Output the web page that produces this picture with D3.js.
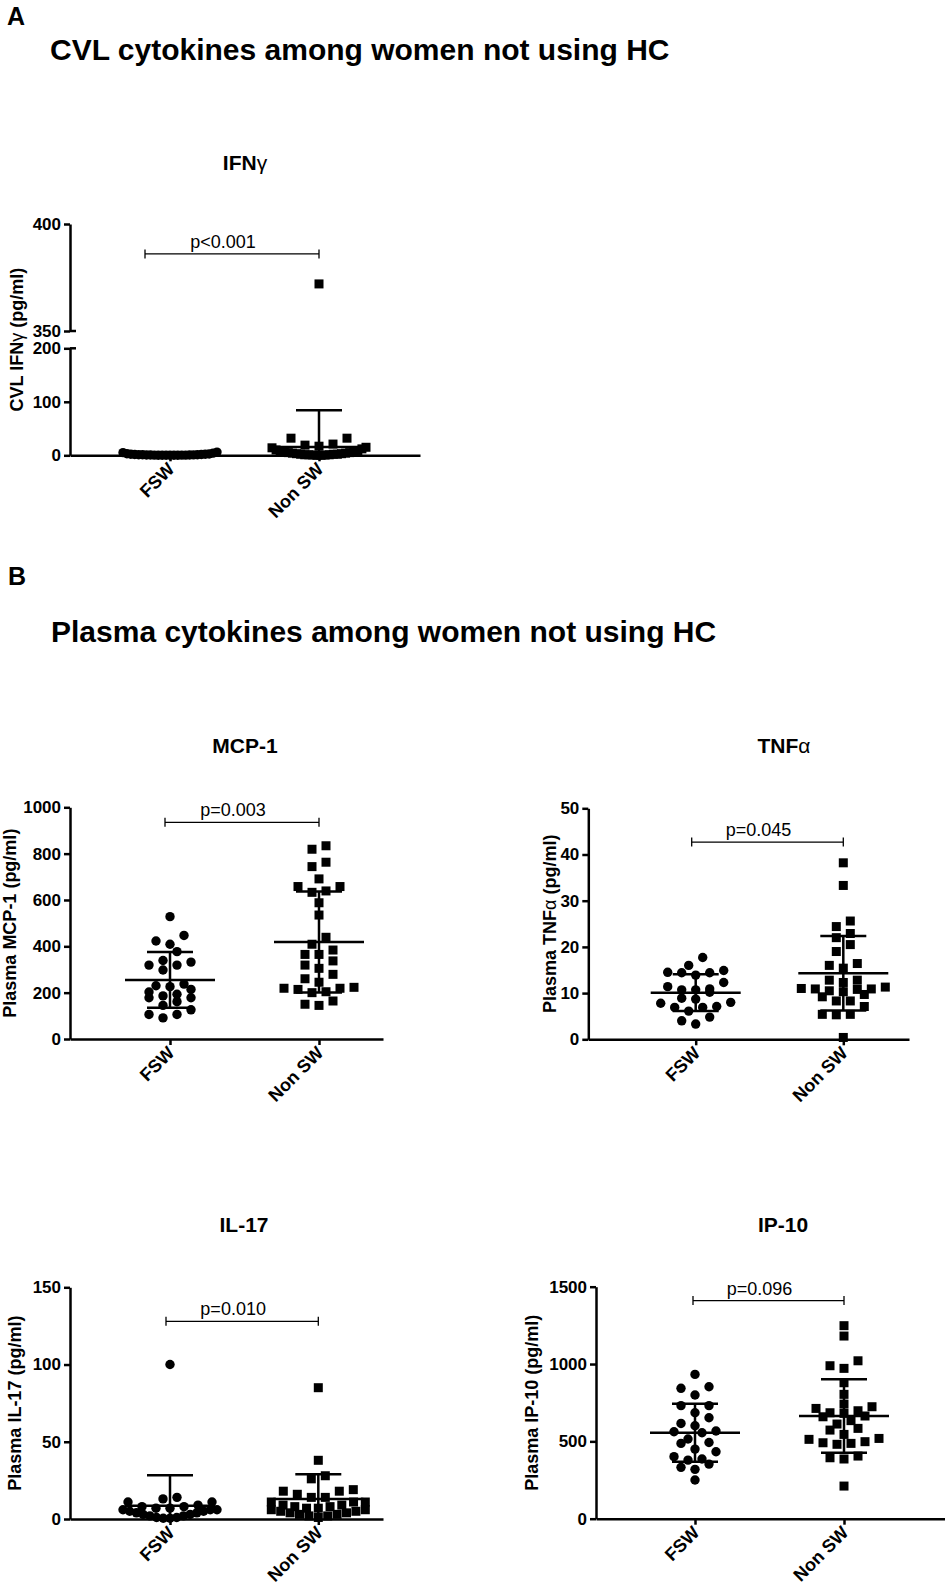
<!DOCTYPE html>
<html lang="en">
<head>
<meta charset="UTF-8">
<title>Cytokines among women not using HC</title>
<script src="https://cdnjs.cloudflare.com/ajax/libs/d3/7.8.5/d3.min.js"></script>
<style>
  body { margin: 0; background: #fff; }
  svg { font-family: "Liberation Sans", Arial, sans-serif; }
</style>
</head>
<body>
<script>

var groups = ["FSW", "Non SW"];

// A: CVL IFNγ (pg/ml)
var ifngFsw = [6, 5, 4, 3, 2.5, 2, 2, 1.5, 1.5, 1, 1, 1, 0.8, 0.6, 0.5, 0.5, 0.4, 0.3, 0.3, 0.2, 0.2, 0.1, 0.1, 0, 0];
var ifngNon = [372, 32, 32, 21, 19, 17, 15, 14, 12, 10, 9, 8, 7, 6, 5, 5, 4, 4, 3, 3, 2, 2, 2, 1, 1, 1, 0.5, 0.5, 0, 0];
var ifngMean = [1.2, 15.5];
var ifngSd = [1.5, 68.5];
var ifngLowTicks = [0, 100, 200];
var ifngHighTicks = [350, 400];

// B: plasma MCP-1
var mcp1Fsw = [528, 447, 423, 409, 377, 339, 332, 319, 319, 298, 237, 230, 226, 214, 203, 193, 186, 178, 178, 161, 145, 126, 106, 106, 91];
var mcp1Non = [834, 819, 763, 744, 691, 658, 658, 639, 633, 588, 535, 439, 409, 384, 365, 365, 337, 319, 305, 279, 260, 245, 223, 219, 219, 214, 204, 200, 164, 150, 145];
var mcp1Mean = [255, 419];
var mcp1Sd = [120, 218];
var mcp1Ticks = [0, 200, 400, 600, 800, 1000];

// B: plasma TNFα
var tnfFsw = [17.7, 16.0, 14.9, 14.5, 14.4, 14.4, 13.9, 12.3, 11.4, 10.9, 10.7, 10.7, 10.2, 8.9, 8.7, 8.0, 7.8, 7.1, 6.9, 6.9, 6.1, 4.8, 4.0, 3.3];
var tnfNon = [38.2, 33.3, 25.6, 24.4, 22.9, 22.0, 20.5, 19.0, 16.4, 16.0, 15.4, 12.8, 12.3, 12.8, 11.0, 10.8, 10.3, 10.9, 10.5, 10.9, 11.3, 9.2, 9.7, 8.3, 8.3, 7.1, 5.4, 5.3, 5.4, 0.4];
var tnfMean = [10.1, 14.3];
var tnfSd = [4.0, 8.05];
var tnfTicks = [0, 10, 20, 30, 40, 50];

// B: plasma IL-17
var il17Fsw = [100, 14, 13, 11, 11, 9, 8, 8, 7, 7, 6, 6, 6, 5, 5, 4, 4, 3, 3, 2, 2, 1, 1, 0.5, 0.5];
var il17Non = [85, 38, 28, 26, 19, 18, 18, 16, 14, 14, 11, 11, 11, 9, 9, 8, 8, 7, 7, 6, 6, 5, 5, 4, 4, 3, 3, 2, 2, 1];
var il17Mean = [8.6, 12.9];
var il17Sd = [19.7, 16.0];
var il17Ticks = [0, 50, 100, 150];

// B: plasma IP-10
var ip10Fsw = [933, 853, 843, 800, 731, 731, 685, 653, 616, 601, 567, 562, 556, 515, 493, 487, 450, 433, 401, 386, 379, 353, 332, 319, 250];
var ip10Non = [1248, 1181, 1021, 989, 972, 879, 804, 741, 724, 713, 698, 685, 681, 664, 659, 634, 612, 584, 573, 545, 519, 513, 498, 491, 487, 481, 405, 394, 386, 211];
var ip10Mean = [556, 664];
var ip10Sd = [187, 237];
var ip10Ticks = [0, 500, 1000, 1500];

// p values and the height (data units) of their brackets
var pLabels = ["p<0.001", "p=0.003", "p=0.045", "p=0.010", "p=0.096"];
var pHeights = [386, 935, 42.7, 128, 1410];

var svg = d3.select("body").append("svg")
    .attr("width", 945)
    .attr("height", 1588);

// text with greek letters set in normal weight
function richText(sel, str) {
    str.split(/([α-ω])/).forEach(function (part) {
        if (!part) return;
        var t = sel.append("tspan").text(part);
        if (/[α-ω]/.test(part)) t.attr("font-weight", "normal");
    });
    return sel;
}

svg.append("text").attr("x", 7).attr("y", 25)
    .attr("font-size", 25).attr("font-weight", "bold").text("A");
svg.append("text").attr("x", 50).attr("y", 60)
    .attr("font-size", 30).attr("font-weight", "bold")
    .text("CVL cytokines among women not using HC");
svg.append("text").attr("x", 8).attr("y", 585)
    .attr("font-size", 25).attr("font-weight", "bold").text("B");
svg.append("text").attr("x", 51).attr("y", 642)
    .attr("font-size", 30).attr("font-weight", "bold")
    .text("Plasma cytokines among women not using HC");

// GraphPad-like scatter: bin by height, spread each row center-out
function swarm(values, y, cx, gap, maxHalf, bin) {
    var pts = values.map(function (v) { return { v: v, py: y(v) }; })
        .sort(function (a, b) { return b.py - a.py; });
    var rows = [], cur = null;
    pts.forEach(function (d) {
        if (!cur || cur.start - d.py >= bin) {
            cur = { start: d.py, items: [] };
            rows.push(cur);
        }
        cur.items.push(d);
    });
    rows.forEach(function (r) {
        var n = r.items.length;
        var s = n > 1 ? Math.min(gap, 2 * maxHalf / (n - 1)) : 0;
        var slots = d3.range(n).map(function (i) { return (i - (n - 1) / 2) * s; })
            .sort(function (a, b) { return Math.abs(a) - Math.abs(b) || a - b; });
        r.items.forEach(function (d, i) { d.px = cx + slots[i]; });
    });
    return pts;
}

function styleAxis(g, size) {
    g.attr("font-family", null).attr("font-size", size).attr("font-weight", "bold");
    g.selectAll(".domain").attr("stroke-width", 2.5);
    g.selectAll(".tick line").attr("stroke-width", 2.5);
    g.selectAll(".tick text").attr("fill", "#000");
}

function drawPanel(p) {
    var L = p.layout;
    var g = svg.append("g");

    var x = d3.scaleLinear()
        .domain([(L.axisX - L.colX) / L.step, (L.axisEnd - L.colX) / L.step])
        .range([L.axisX, L.axisEnd]);

    var y, yAxes = [];
    if (p.broken) {
        var yLow = d3.scaleLinear().domain([0, 200]).range([L.yBottom, L.lowTop]);
        var yHigh = d3.scaleLinear().domain([350, 400]).range([L.highBottom, L.yTop]);
        y = function (v) { return v <= 200 ? yLow(v) : yHigh(v); };
        yAxes.push([yLow, ifngLowTicks], [yHigh, ifngHighTicks]);
    } else {
        y = d3.scaleLinear().domain([0, p.ticks[p.ticks.length - 1]]).range([L.yBottom, L.yTop]);
        yAxes.push([y, p.ticks]);
    }

    // title
    richText(g.append("text")
        .attr("x", L.titleX).attr("y", L.titleY)
        .attr("text-anchor", "middle")
        .attr("font-size", 21).attr("font-weight", "bold"), p.title);

    // y axis title
    richText(g.append("text")
        .attr("transform", "translate(" + L.ylabX + "," + (L.yTop + L.yBottom) / 2 + ") rotate(-90)")
        .attr("text-anchor", "middle")
        .attr("font-size", 18).attr("font-weight", "bold"), p.ylab);

    // y axes
    yAxes.forEach(function (a) {
        var ag = g.append("g")
            .attr("transform", "translate(" + L.axisX + ",0)")
            .call(d3.axisLeft(a[0]).tickValues(a[1]).tickFormat(d3.format("d"))
                .tickSize(6).tickPadding(3).tickSizeOuter(0));
        styleAxis(ag, 17);
    });
    if (p.broken) {
        [200, 350].forEach(function (v) {
            g.append("line")
                .attr("x1", L.axisX).attr("x2", L.axisX + 6)
                .attr("y1", y(v)).attr("y2", y(v))
                .attr("stroke", "#000").attr("stroke-width", 2.5);
        });
    }

    // x axis
    var xg = g.append("g")
        .attr("transform", "translate(0," + L.yBottom + ")")
        .call(d3.axisBottom(x).tickValues([0, 1])
            .tickFormat(function (i) { return groups[i]; })
            .tickSize(6).tickSizeOuter(0));
    styleAxis(xg, 18);
    xg.selectAll(".tick text")
        .attr("x", 0).attr("y", 0).attr("dy", 0)
        .attr("text-anchor", "end")
        .attr("transform", "translate(5,15) rotate(-45)");

    // points
    var sets = [p.fsw, p.non];
    sets.forEach(function (vals, gi) {
        var pts = swarm(vals, y, x(gi), 14, 47, 9);
        if (gi === 0) {
            g.selectAll(null).data(pts).enter().append("circle")
                .attr("cx", function (d) { return d.px; })
                .attr("cy", function (d) { return d.py; })
                .attr("r", 4.7)
                .attr("fill", "#000");
        } else {
            g.selectAll(null).data(pts).enter().append("rect")
                .attr("x", function (d) { return d.px - 4.5; })
                .attr("y", function (d) { return d.py - 4.5; })
                .attr("width", 9).attr("height", 9)
                .attr("fill", "#000");
        }
    });

    // mean ± SD
    [0, 1].forEach(function (gi) {
        var cx = x(gi), m = p.mean[gi], s = p.sd[gi];
        var lo = Math.max(0, m - s), hi = m + s;
        g.append("line")
            .attr("x1", cx - 45).attr("x2", cx + 45)
            .attr("y1", y(m)).attr("y2", y(m))
            .attr("stroke", "#000").attr("stroke-width", 2.5);
        g.append("line")
            .attr("x1", cx).attr("x2", cx)
            .attr("y1", y(lo)).attr("y2", y(hi))
            .attr("stroke", "#000").attr("stroke-width", 2.5);
        var caps = [hi];
        if (m - s > 0) caps.push(lo);
        caps.forEach(function (c) {
            g.append("line")
                .attr("x1", cx - 23).attr("x2", cx + 23)
                .attr("y1", y(c)).attr("y2", y(c))
                .attr("stroke", "#000").attr("stroke-width", 2.5);
        });
    });

    // p value bracket
    var by = y(p.pAt), bx0 = x(0) - L.bracketIn, bx1 = x(1);
    g.append("path")
        .attr("d", "M" + bx0 + "," + (by - 4.5) + "V" + (by + 4.5) +
            "M" + bx0 + "," + by + "H" + bx1 +
            "M" + bx1 + "," + (by - 4.5) + "V" + (by + 4.5))
        .attr("fill", "none").attr("stroke", "#000").attr("stroke-width", 1.3);
    g.append("text")
        .attr("x", (bx0 + bx1) / 2 - 9).attr("y", by - 6)
        .attr("text-anchor", "middle")
        .attr("font-size", 18)
        .text(p.pLabel);
}

var panels = [
    { title: "IFNγ", ylab: "CVL IFNγ (pg/ml)", fsw: ifngFsw, non: ifngNon, mean: ifngMean, sd: ifngSd,
      broken: true, pLabel: pLabels[0], pAt: pHeights[0],
      layout: { axisX: 70, colX: 170, step: 149, axisEnd: 420, yTop: 224, highBottom: 331,
                lowTop: 348.3, yBottom: 455.3, titleX: 245, titleY: 170, ylabX: 23, bracketIn: 25 } },
    { title: "MCP-1", ylab: "Plasma MCP-1 (pg/ml)", fsw: mcp1Fsw, non: mcp1Non, mean: mcp1Mean, sd: mcp1Sd,
      ticks: mcp1Ticks, pLabel: pLabels[1], pAt: pHeights[1],
      layout: { axisX: 70, colX: 170, step: 149, axisEnd: 383, yTop: 807.3, yBottom: 1039,
                titleX: 245, titleY: 753, ylabX: 16, bracketIn: 5 } },
    { title: "TNFα", ylab: "Plasma TNFα (pg/ml)", fsw: tnfFsw, non: tnfNon, mean: tnfMean, sd: tnfSd,
      ticks: tnfTicks, pLabel: pLabels[2], pAt: pHeights[2],
      layout: { axisX: 588.3, colX: 695.7, step: 147.6, axisEnd: 909, yTop: 808.3, yBottom: 1039.3,
                titleX: 784, titleY: 753, ylabX: 556, bracketIn: 4 } },
    { title: "IL-17", ylab: "Plasma IL-17 (pg/ml)", fsw: il17Fsw, non: il17Non, mean: il17Mean, sd: il17Sd,
      ticks: il17Ticks, pLabel: pLabels[3], pAt: pHeights[3],
      layout: { axisX: 70, colX: 170, step: 148.3, axisEnd: 383, yTop: 1287.3, yBottom: 1519,
                titleX: 244, titleY: 1232, ylabX: 21, bracketIn: 4 } },
    { title: "IP-10", ylab: "Plasma IP-10 (pg/ml)", fsw: ip10Fsw, non: ip10Non, mean: ip10Mean, sd: ip10Sd,
      ticks: ip10Ticks, pLabel: pLabels[4], pAt: pHeights[4],
      layout: { axisX: 596, colX: 695, step: 149, axisEnd: 945, yTop: 1286.7, yBottom: 1518.7,
                titleX: 783, titleY: 1232, ylabX: 538, bracketIn: 2 } }
];

panels.forEach(drawPanel);

</script>
</body>
</html>
